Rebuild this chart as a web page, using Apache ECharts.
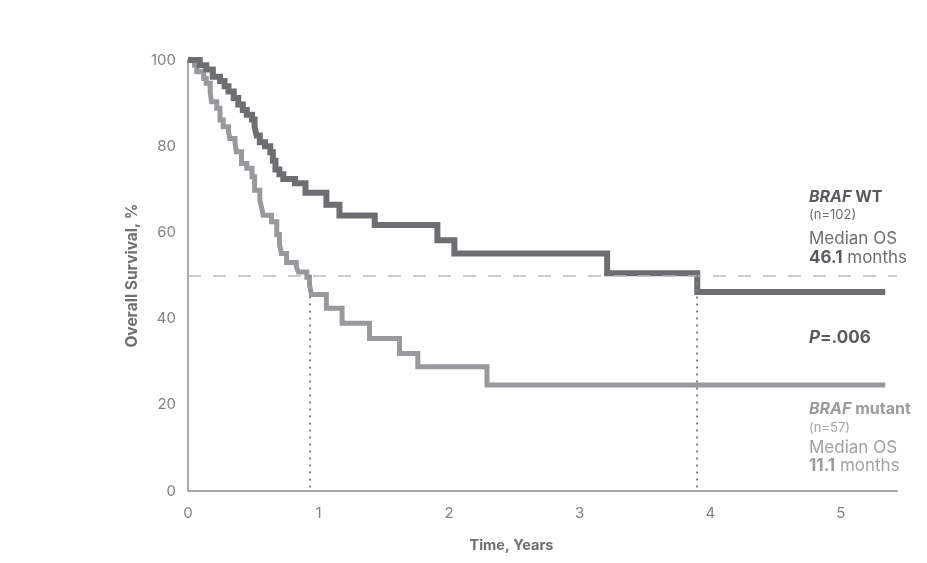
<!DOCTYPE html>
<html>
<head>
<meta charset="utf-8">
<script src="https://cdn.jsdelivr.net/npm/echarts@6/dist/echarts.min.js"></script>
<style>
  html, body { margin: 0; padding: 0; background: #fff; }
  #chart { width: 927px; height: 563px; }
</style>
</head>
<body>
<div id="chart"></div>
<script>
// Kaplan-Meier steps: [years, survival %]
var wtSteps = [
  [0, 100], [0.09, 98.8], [0.14, 97.8], [0.19, 96.1], [0.245, 95.1], [0.28, 93.9],
  [0.31, 92.7], [0.35, 91.2], [0.385, 89.7], [0.42, 88.4], [0.45, 87.3], [0.49, 86.2],
  [0.51, 84.5], [0.525, 82.5], [0.55, 80.9], [0.59, 80.0], [0.63, 78.6], [0.65, 76.6],
  [0.67, 74.6], [0.70, 73.5], [0.73, 72.4], [0.82, 71.4], [0.90, 69.2], [1.06, 66.4],
  [1.16, 63.9], [1.43, 61.7], [1.91, 58.2], [2.04, 55.1], [3.21, 50.5], [3.90, 46.2],
  [5.34, 46.2]
];
var mutSteps = [
  [0, 100], [0.05, 98.8], [0.067, 97.3], [0.12, 95.7], [0.14, 94.6], [0.17, 92.6],
  [0.18, 90.3], [0.22, 88.8], [0.245, 86.1], [0.27, 84.5], [0.31, 83.4], [0.32, 81.8],
  [0.36, 80.7], [0.37, 78.7], [0.41, 76.0], [0.45, 74.9], [0.49, 72.9], [0.51, 69.8],
  [0.55, 67.5], [0.565, 65.6], [0.575, 64.0], [0.64, 62.5], [0.68, 59.5], [0.70, 57.3],
  [0.715, 55.1], [0.755, 53.0], [0.83, 52.0], [0.845, 50.8], [0.91, 49.6], [0.93, 47.9],
  [0.945, 45.6], [1.06, 42.4], [1.18, 38.9], [1.39, 35.4], [1.62, 31.9], [1.76, 28.8],
  [2.29, 24.6], [5.34, 24.6]
];
var medianYears = [0.93, 3.90];
var medianLevel = 50;
var xTicks = [0, 1, 2, 3, 4, 5];
var yTicks = [0, 20, 40, 60, 80, 100];

var darkGrey = '#6d6e71';
var lightGrey = '#98999c';
var fontName = 'Inter, "Noto Sans", sans-serif';

var chart = echarts.init(document.getElementById('chart'));

function textLine(top, text, rich) {
  return {
    type: 'text',
    left: 809,
    top: top,
    style: { text: text, rich: rich, fontFamily: fontName }
  };
}

function richSet(head, body, small) {
  return {
    bi: { fontSize: 16, fontWeight: 'bold', fontStyle: 'italic', fill: head, fontFamily: fontName },
    b: { fontSize: 16, fontWeight: 'bold', fill: head, fontFamily: fontName },
    s: { fontSize: 13, fill: small, fontFamily: fontName },
    r: { fontSize: 17, fill: body, fontFamily: fontName },
    n: { fontSize: 17, fontWeight: 'bold', fill: head, fontFamily: fontName }
  };
}
var wtRich = richSet('#5a5b5e', '#6d6e71', '#6d6e71');
var mutRich = richSet('#9a9b9e', '#a0a1a4', '#a4a5a8');
var pRich = {
  bi: { fontSize: 17, fontWeight: 'bold', fontStyle: 'italic', fill: '#5a5b5e', fontFamily: fontName },
  b: { fontSize: 17, fontWeight: 'bold', fill: '#5a5b5e', fontFamily: fontName }
};

var option = {
  animation: false,
  textStyle: { fontFamily: fontName },
  grid: { left: 188, right: 30, top: 60, bottom: 72 },
  xAxis: {
    type: 'value',
    min: xTicks[0],
    max: 5.43,
    interval: 1,
    name: 'Time, Years',
    nameLocation: 'middle',
    nameGap: 47,
    nameTextStyle: { fontSize: 14.5, fontWeight: 'bold', color: '#6d6e71', padding: [0, 62, 0, 0] },
    axisLine: { lineStyle: { color: '#a7a8ab', width: 2 } },
    axisTick: { show: false },
    splitLine: { show: false },
    axisLabel: {
      fontSize: 15, color: '#808184', margin: 15, showMaxLabel: false,
      formatter: function (v) { return xTicks.indexOf(v) >= 0 ? String(v) : ''; }
    }
  },
  yAxis: {
    type: 'value',
    min: yTicks[0],
    max: yTicks[yTicks.length - 1],
    interval: 20,
    name: 'Overall Survival, %',
    nameLocation: 'middle',
    nameGap: 48,
    nameTextStyle: { fontSize: 15.5, fontWeight: 'bold', color: '#6d6e71' },
    axisLine: { show: true, lineStyle: { color: '#a7a8ab', width: 2 } },
    axisTick: { show: false },
    splitLine: { show: false },
    axisLabel: { fontSize: 15, color: '#808184', margin: 12 }
  },
  series: [
    {
      name: 'BRAF mutant',
      type: 'line',
      step: 'end',
      data: mutSteps,
      showSymbol: false,
      lineStyle: { color: lightGrey, width: 5, join: 'miter', cap: 'butt' },
      z: 3,
      markLine: {
        silent: true,
        symbol: 'none',
        label: { show: false },
        lineStyle: { color: '#b9babd', type: [13, 12], width: 1.5 },
        data: [{ yAxis: medianLevel }]
      }
    },
    {
      name: 'BRAF WT',
      type: 'line',
      step: 'end',
      data: wtSteps,
      showSymbol: false,
      lineStyle: { color: darkGrey, width: 6, join: 'miter', cap: 'butt' },
      z: 4,
      markLine: {
        silent: true,
        symbol: 'none',
        label: { show: false },
        lineStyle: { color: '#808184', type: [2, 5], width: 2 },
        data: medianYears.map(function (t) {
          return [{ coord: [t, medianLevel] }, { coord: [t, 0] }];
        })
      }
    }
  ],
  graphic: [
    textLine(189, '{bi|BRAF}{b| WT}', wtRich),
    textLine(209, '{s|(n=102)}', wtRich),
    textLine(230, '{r|Median OS}', wtRich),
    textLine(249, '{n|46.1}{r| months}', wtRich),
    textLine(329, '{bi|P}{b|=.006}', pRich),
    textLine(401, '{bi|BRAF}{b| mutant}', mutRich),
    textLine(422, '{s|(n=57)}', mutRich),
    textLine(439, '{r|Median OS}', mutRich),
    textLine(457, '{n|11.1}{r| months}', mutRich)
  ]
};

chart.setOption(option);
</script>
</body>
</html>
